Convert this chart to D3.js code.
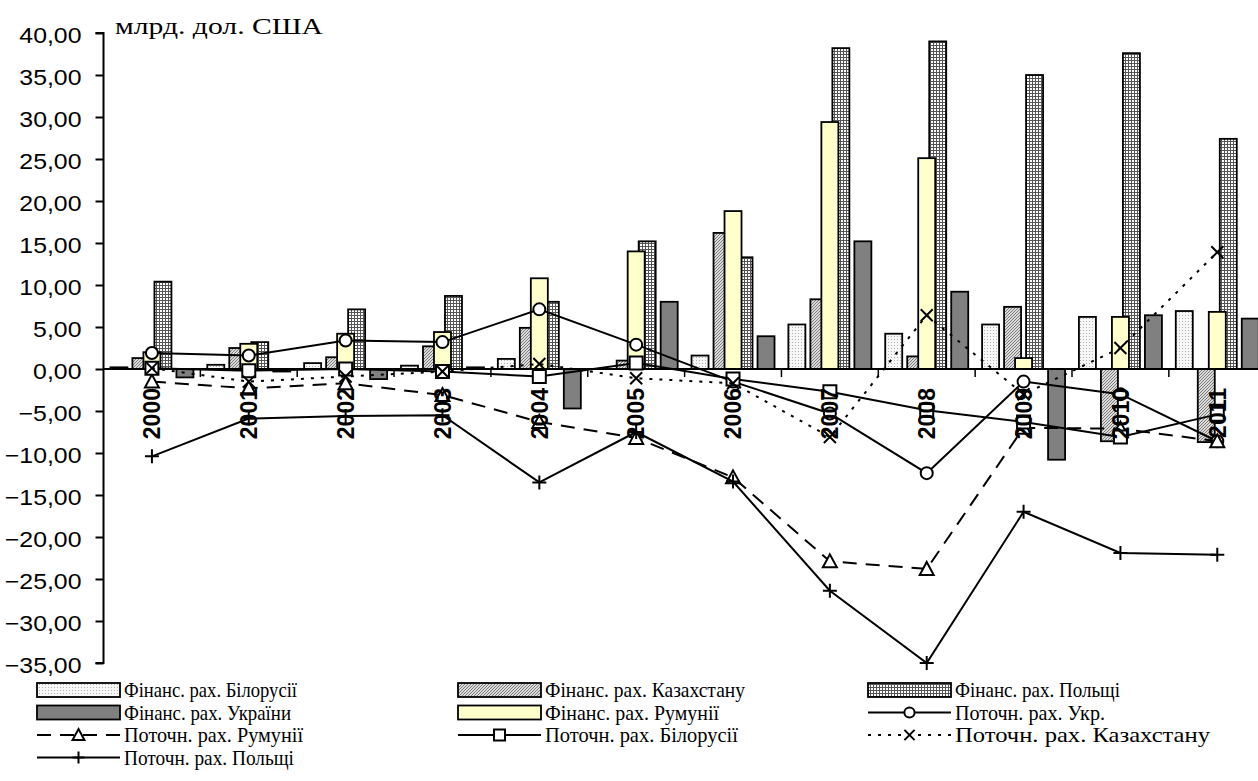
<!DOCTYPE html>
<html>
<head>
<meta charset="utf-8">
<script src="https://cdn.jsdelivr.net/npm/d3@7"></script>
<style>
  html, body { margin: 0; padding: 0; background: #fff; }
  svg { display: block; }
</style>
</head>
<body>
<svg id="chart" width="1258" height="781"></svg>
<script>
// Роки
const years = ["2000","2001","2002","2003","2004","2005","2006","2007","2008","2009","2010","2011"];

// Фінансові рахунки, млрд. дол. США
const finBelarus    = [0.2, 0.5, 0.7, 0.4, 1.2, 0.0, 1.6, 5.3, 4.2, 5.3, 6.2, 6.9];
const finKazakhstan = [1.3, 2.5, 1.4, 2.7, 4.9, 1.0, 16.2, 8.3, 1.5, 7.4, -8.6, -8.7];
const finPoland     = [10.4, 3.2, 7.1, 8.7, 8.0, 15.2, 13.3, 38.2, 39.0, 35.0, 37.6, 27.4];
const finUkraine    = [-1.0, -0.3, -1.2, 0.2, -4.7, 8.0, 3.9, 15.2, 9.2, -10.8, 6.4, 6.0];
const finRomania    = [2.0, 3.0, 4.2, 4.4, 10.8, 14.0, 18.8, 29.4, 25.1, 1.3, 6.2, 6.8];

// Поточні рахунки, млрд. дол. США
const curUkraine    = [1.9, 1.6, 3.4, 3.2, 7.1, 2.9, -1.5, -5.3, -12.4, -1.5, -3.0, -8.6];
const curRomania    = [-1.5, -2.3, -1.7, -3.1, -6.3, -8.2, -12.9, -22.9, -23.8, -7.0, -7.1, -8.6];
const curBelarus    = [0.1, -0.2, 0.0, -0.3, -0.9, 0.7, -1.2, -2.7, -4.9, -6.3, -8.1, -5.4];
const curKazakhstan = [0.1, -1.5, -0.9, -0.3, 0.6, -1.1, -1.7, -8.1, 6.4, -3.0, 2.5, 13.9];
const curPoland     = [-10.4, -5.9, -5.6, -5.5, -13.5, -7.5, -13.4, -26.4, -35.0, -17.0, -21.9, -22.1];

// Поділки осі значень
const yTickValues = [40, 35, 30, 25, 20, 15, 10, 5, 0, -5, -10, -15, -20, -25, -30, -35];
const unitLabel = "млрд. дол. США";

const SERIF = '"Liberation Serif"';
const SANS = '"Liberation Sans"';

const barSeries = [
  { key: "bel", name: "Фінанс. рах. Білорусії", values: finBelarus, fill: "url(#pBel)" },
  { key: "kaz", name: "Фінанс. рах. Казахстану", values: finKazakhstan, fill: "url(#pKaz)" },
  { key: "pol", name: "Фінанс. рах. Польщі", values: finPoland, fill: "url(#pPol)" },
  { key: "ukr", name: "Фінанс. рах. України", values: finUkraine, fill: "#808080" }
];
const romaniaBar = { key: "rom", name: "Фінанс. рах. Румунії", values: finRomania, fill: "#FFFFCC" };

const lineSeries = [
  { key: "cUkr", name: "Поточн. рах. Укр.", values: curUkraine, dash: null, marker: "circle" },
  { key: "cRom", name: "Поточн. рах. Румунії", values: curRomania, dash: "14,9", marker: "triangle" },
  { key: "cBel", name: "Поточн. рах. Білорусії", values: curBelarus, dash: null, marker: "square" },
  { key: "cKaz", name: "Поточн. рах. Казахстану", values: curKazakhstan, dash: "3,7", marker: "cross" },
  { key: "cPol", name: "Поточн. рах. Польщі", values: curPoland, dash: null, marker: "plus" }
];

const svg = d3.select("#chart");
const defs = svg.append("defs");

// Заливки стовпців
const pBel = defs.append("pattern").attr("id", "pBel").attr("patternUnits", "userSpaceOnUse")
  .attr("width", 3).attr("height", 3);
pBel.append("rect").attr("width", 3).attr("height", 3).attr("fill", "#f7f7f7");
pBel.append("rect").attr("x", 0).attr("y", 0).attr("width", 1).attr("height", 1).attr("fill", "#b0b0b0");

const pKaz = defs.append("pattern").attr("id", "pKaz").attr("patternUnits", "userSpaceOnUse")
  .attr("width", 3).attr("height", 3);
pKaz.append("rect").attr("width", 3).attr("height", 3).attr("fill", "#dcdcdc");
pKaz.append("path").attr("d", "M0,3 L3,0 M-1,1 L1,-1 M2,4 L4,2").attr("stroke", "#7a7a7a").attr("stroke-width", 1);

const pPol = defs.append("pattern").attr("id", "pPol").attr("patternUnits", "userSpaceOnUse")
  .attr("width", 3).attr("height", 3);
pPol.append("rect").attr("width", 3).attr("height", 3).attr("fill", "#ffffff");
pPol.append("path").attr("d", "M0,0.5 H3 M0.5,0 V3").attr("stroke", "#555").attr("stroke-width", 1);

// Шкали
const plotLeft = 103.5, step = 96.85;
const plotRight = plotLeft + step * years.length;
const x0 = d3.scaleBand().domain(years).range([plotLeft, plotRight]).paddingInner(0).paddingOuter(0);
const x1 = d3.scaleBand().domain(barSeries.map(d => d.key)).range([-44, 44])
  .paddingInner(5 / 22).paddingOuter(2.5 / 22);
const y = d3.scaleLinear().domain([-35, 40]).range([663, 33]);
const cx = yr => x0(yr) + x0.bandwidth() / 2;
const bw = x1.bandwidth();

// Стовпці фінансових рахунків
const barsG = svg.append("g").attr("class", "bars");
barSeries.forEach(s => {
  barsG.append("g").selectAll("rect").data(years.map((yr, i) => ({ yr, v: s.values[i] })))
    .join("rect")
    .attr("x", d => cx(d.yr) + x1(s.key))
    .attr("y", d => y(Math.max(0, d.v)))
    .attr("width", bw)
    .attr("height", d => Math.abs(y(d.v) - y(0)))
    .attr("fill", s.fill)
    .attr("stroke", "#000")
    .attr("stroke-width", 1.8);
});
barsG.append("g").selectAll("rect").data(years.map((yr, i) => ({ yr, v: romaniaBar.values[i] })))
  .join("rect")
  .attr("x", d => cx(d.yr) - bw / 2)
  .attr("y", d => y(Math.max(0, d.v)))
  .attr("width", bw)
  .attr("height", d => Math.abs(y(d.v) - y(0)))
  .attr("fill", romaniaBar.fill)
  .attr("stroke", "#000")
  .attr("stroke-width", 1.8);

// Вісь значень
const yAxis = d3.axisLeft(y).tickValues(yTickValues).tickSize(8).tickPadding(12)
  .tickFormat(v => d3.format(".2f")(v).replace(".", ","));
const yAxisG = svg.append("g").attr("transform", `translate(${plotLeft},0)`).call(yAxis);
yAxisG.attr("font-family", null).attr("font-size", null);
yAxisG.select(".domain").attr("stroke", "#000").attr("stroke-width", 2).attr("d", `M-8,${y(40)}H0V${y(-35)}H-8`);
yAxisG.selectAll(".tick line").attr("stroke", "#000").attr("stroke-width", 2);
yAxisG.selectAll(".tick text")
  .style("font-family", SANS).style("font-size", "22px")
  .attr("fill", "#000")
  .attr("dy", "0.45em")
  .attr("transform", "scale(1.13,1)")
  .attr("x", -22 / 1.13)
  .attr("text-anchor", "end");

// Вісь категорій
const xAxisG = svg.append("g").attr("class", "xaxis");
xAxisG.append("line").attr("x1", plotLeft).attr("x2", plotRight)
  .attr("y1", y(0)).attr("y2", y(0)).attr("stroke", "#000").attr("stroke-width", 2);
xAxisG.selectAll("line.tick").data(years.slice(1))
  .join("line").attr("class", "tick")
  .attr("x1", d => x0(d)).attr("x2", d => x0(d))
  .attr("y1", y(0)).attr("y2", y(0) + 8)
  .attr("stroke", "#000").attr("stroke-width", 1.5);

// Лінії поточних рахунків
const lineGen = d3.line().x(d => cx(d.yr)).y(d => y(d.v));
const markerPath = {
  circle: "M6,0A6,6 0 1,1 -6,0A6,6 0 1,1 6,0Z",
  triangle: "M0,-7L7,6L-7,6Z",
  square: "M-6.5,-6.5H6.5V6.5H-6.5Z",
  cross: "M-6,-6L6,6M-6,6L6,-6",
  plus: "M-7,0H7M0,-7V7"
};
const linesG = svg.append("g").attr("class", "lines");
function drawMarker(g, type, x, yy, k = 1) {
  const filled = type === "circle" || type === "triangle" || type === "square";
  g.append("path").attr("d", markerPath[type])
    .attr("transform", `translate(${x},${yy}) scale(${k})`)
    .attr("fill", filled ? "#fff" : "none")
    .attr("stroke", "#000").attr("stroke-width", 2 / k);
}
lineSeries.forEach(s => {
  const pts = years.map((yr, i) => ({ yr, v: s.values[i] }));
  const g = linesG.append("g");
  g.append("path").datum(pts).attr("d", lineGen)
    .attr("fill", "none").attr("stroke", "#000").attr("stroke-width", 2)
    .attr("stroke-dasharray", s.dash);
  pts.forEach(p => drawMarker(g, s.marker, cx(p.yr), y(p.v)));
});

// Підписи років
svg.append("g").selectAll("text").data(years).join("text")
  .attr("transform", d => `translate(${cx(d)},${y(0) + 19}) rotate(-90)`)
  .attr("text-anchor", "end")
  .attr("dy", "0.36em")
  .style("font-family", SANS).style("font-size", "23px").style("font-weight", "bold")
  .attr("fill", "#000")
  .text(d => d);

// Одиниці виміру
svg.append("text").attr("x", 115).attr("y", 34)
  .style("font-family", SERIF).style("font-size", "23px")
  .attr("textLength", 208).attr("lengthAdjust", "spacingAndGlyphs")
  .attr("fill", "#000").text(unitLabel);

// Легенда: розташування і ширина підписів
const legendItems = [
  { type: "bar", s: barSeries[0], w: 173 }, { type: "bar", s: barSeries[1], w: 200 }, { type: "bar", s: barSeries[2], w: 165 },
  { type: "bar", s: barSeries[3], w: 167 }, { type: "bar", s: romaniaBar, w: 174 }, { type: "line", s: lineSeries[0], w: 150 },
  { type: "line", s: lineSeries[1], w: 179 }, { type: "line", s: lineSeries[2], w: 193 }, { type: "line", s: lineSeries[3], w: 255 },
  { type: "line", s: lineSeries[4], w: 170 }
];
const colX = [37, 458, 868];
const rowY = [690, 712.5, 735, 757.5];
const swW = 83;
const legendG = svg.append("g").attr("class", "legend");
legendItems.forEach((it, i) => {
  const lx = colX[i % 3], ly = rowY[Math.floor(i / 3)];
  const g = legendG.append("g");
  if (it.type === "bar") {
    g.append("rect").attr("x", lx).attr("y", ly - 7).attr("width", swW).attr("height", 14)
      .attr("fill", it.s.fill).attr("stroke", "#000").attr("stroke-width", 1.8);
  } else {
    g.append("line").attr("x1", lx).attr("x2", lx + swW).attr("y1", ly).attr("y2", ly)
      .attr("stroke", "#000").attr("stroke-width", 2).attr("stroke-dasharray", it.s.dash);
    drawMarker(g, it.s.marker, lx + swW / 2, ly, 0.85);
  }
  g.append("text").attr("x", lx + swW + 4).attr("y", ly).attr("dy", "0.34em")
    .style("font-family", SERIF).style("font-size", "21px")
    .attr("textLength", it.w).attr("lengthAdjust", "spacingAndGlyphs")
    .attr("fill", "#000").text(it.s.name);
});
</script>
</body>
</html>
